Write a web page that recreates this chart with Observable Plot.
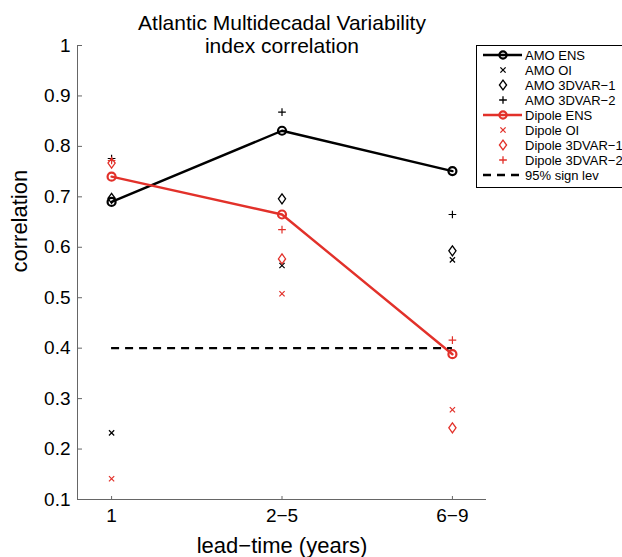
<!DOCTYPE html>
<html><head><meta charset="utf-8">
<script src="https://cdn.jsdelivr.net/npm/d3@7"></script>
<script src="https://cdn.jsdelivr.net/npm/@observablehq/plot@0.6"></script>
<style>
body{margin:0;background:#fff;overflow:hidden}
#chart{position:relative;width:622px;height:557px;overflow:hidden}
#chart svg{position:absolute;left:0;top:0}
</style></head><body><div id="chart"></div>
<script>
// ---- data ----
const leadPos = [1, 2, 3];
const leadLabels = ["1", "2\u22125", "6\u22129"];
const yTicks = [0.1, 0.2, 0.3, 0.4, 0.5, 0.6, 0.7, 0.8, 0.9, 1];
const titleText = "Atlantic Multidecadal Variability\nindex correlation";
const xLabel = "lead\u2212time (years)";
const yLabel = "correlation";
const sigLevel = 0.4;

const amoEns    = [0.690, 0.831, 0.751];
const amoOI     = [0.232, 0.564, 0.575];
const amo3dvar1 = [0.697, 0.696, 0.593];
const amo3dvar2 = [0.776, 0.868, 0.665];
const dipEns    = [0.740, 0.665, 0.388];
const dipOI     = [0.141, 0.508, 0.278];
const dip3dvar1 = [0.767, 0.577, 0.242];
const dip3dvar2 = [0.772, 0.635, 0.416];

const legendLabels = ["AMO ENS","AMO OI","AMO 3DVAR\u22121","AMO 3DVAR\u22122",
  "Dipole ENS","Dipole OI","Dipole 3DVAR\u22121","Dipole 3DVAR\u22122","95% sign lev"];

// ---- style ----
const BLACK = "#000";
const RED = "#e2312a";
const FONT = "'Liberation Sans', Arial, Helvetica, sans-serif";

const matlabDiamond = {
  draw(ctx, size) {
    const s = Math.sqrt(size);
    const h = s * 0.97, w = s * 0.70;
    ctx.moveTo(0, -h); ctx.lineTo(w, 0); ctx.lineTo(0, h); ctx.lineTo(-w, 0); ctx.closePath();
  }
};

const px = (d, i) => leadPos[i];
const py = d => d;

function group(ens, oi, v1, v2, color) {
  return [
    Plot.line(ens, {x: px, y: py, stroke: color, strokeWidth: 2.4}),
    Plot.dot(ens, {x: px, y: py, r: 4, symbol: "circle", stroke: color, fill: "none", strokeWidth: 2.2}),
    Plot.dot(oi, {x: px, y: py, r: 2.5, symbol: "times", stroke: color, fill: "none", strokeWidth: 1.2}),
    Plot.dot(v1, {x: px, y: py, r: 2.9, symbol: matlabDiamond, stroke: color, fill: "none", strokeWidth: 1.3}),
    Plot.dot(v2, {x: px, y: py, r: 2.6, symbol: "plus", stroke: color, fill: "none", strokeWidth: 1.2})
  ];
}

const chart = Plot.plot({
  width: 622, height: 557,
  marginLeft: 77, marginRight: 136, marginTop: 45, marginBottom: 58,
  style: {fontFamily: FONT, color: "#000", background: "#fff"},
  x: {domain: [0.8, 3.2]},
  y: {domain: [0.1, 1]},
  marks: [
    Plot.ruleX([0.8], {stroke: "#666", strokeWidth: 1}),
    Plot.ruleY([0.1], {stroke: "#666", strokeWidth: 1}),
    Plot.axisY({ticks: yTicks, tickSize: 0, tickPadding: 7, fontSize: 19, label: null, tickFormat: d => d3.format("")(d)}),
    Plot.axisY({ticks: yTicks, anchor: "right", frameAnchor: "left", tickSize: 4, text: null, label: null, stroke: "#666"}),
    Plot.axisX({ticks: leadPos, tickSize: 0, tickPadding: 9, fontSize: 19, label: null, tickFormat: (d) => leadLabels[leadPos.indexOf(d)]}),
    Plot.axisX({ticks: leadPos, anchor: "top", frameAnchor: "bottom", tickSize: 4, text: null, label: null, stroke: "#666"}),
    ...group(amoEns, amoOI, amo3dvar1, amo3dvar2, BLACK),
    ...group(dipEns, dipOI, dip3dvar1, dip3dvar2, RED),
    Plot.ruleY([sigLevel], {x1: leadPos[0], x2: leadPos[2], stroke: BLACK, strokeWidth: 2.4, strokeDasharray: "8,6"}),
    Plot.text([titleText], {frameAnchor: "top", dy: -11, lineAnchor: "middle", fontSize: 21, lineHeight: 1.08, fill: "#000"}),
    Plot.text([xLabel], {frameAnchor: "bottom", dy: 46, lineAnchor: "middle", fontSize: 22, fill: "#000"}),
    Plot.text([yLabel], {frameAnchor: "left", dx: -58, rotate: -90, lineAnchor: "middle", fontSize: 22, fill: "#000"})
  ]
});
document.getElementById("chart").appendChild(chart);

// ---- legend ----
const legendItems = [
  {type: "ens", color: BLACK}, {type: "times", color: BLACK}, {type: "diamond", color: BLACK}, {type: "plus", color: BLACK},
  {type: "ens", color: RED}, {type: "times", color: RED}, {type: "diamond", color: RED}, {type: "plus", color: RED},
  {type: "dash", color: BLACK}
].map((d, i) => ({...d, label: legendLabels[i]}));

const lg = d3.create("svg").attr("width", 622).attr("height", 557)
  .style("font-family", FONT).style("pointer-events", "none");
lg.append("rect").attr("x", 476.5).attr("y", 45.5).attr("width", 170).attr("height", 142)
  .attr("fill", "#fff").attr("stroke", "#000").attr("stroke-width", 1);
const rows = lg.selectAll("g").data(legendItems).join("g")
  .attr("transform", (d, i) => `translate(0,${55 + i * 15})`);
rows.filter(d => d.type === "ens" || d.type === "dash").append("line")
  .attr("x1", 483).attr("x2", 522).attr("stroke", d => d.color)
  .attr("stroke-width", 2.4)
  .attr("stroke-dasharray", d => d.type === "dash" ? "8,6" : null);
const symFor = {ens: d3.symbolCircle, times: d3.symbolTimes, diamond: matlabDiamond, plus: d3.symbolPlus};
const rFor = {ens: 3.6, times: 2.5, diamond: 2.9, plus: 2.6};
rows.filter(d => d.type !== "dash").append("path")
  .attr("transform", "translate(503,0)")
  .attr("d", d => d3.symbol(symFor[d.type], Math.PI * rFor[d.type] ** 2)())
  .attr("fill", "none").attr("stroke", d => d.color)
  .attr("stroke-width", d => d.type === "ens" ? 2.2 : 1.3);
rows.append("text").attr("x", 525).attr("dy", "0.36em").attr("font-size", 13)
  .attr("fill", "#000").text(d => d.label);
document.getElementById("chart").appendChild(lg.node());
</script>
</body></html>
